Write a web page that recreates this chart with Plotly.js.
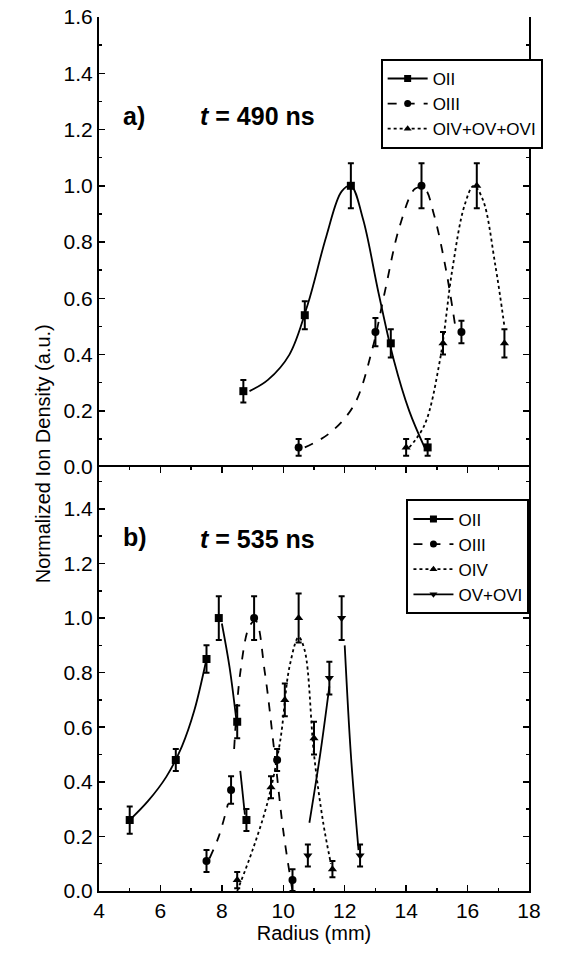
<!DOCTYPE html>
<html>
<head>
<meta charset="utf-8">
<script src="https://cdn.plot.ly/plotly-3.0.1.min.js"></script>
<style>body{margin:0;background:#fff}#chart{width:562px;height:965px}</style>
</head>
<body>
<div id="chart"></div>
<script>
// panel a) t = 490 ns — measured points
const aOIIx = [8.7, 10.7, 12.2, 13.5, 14.7];
const aOIIy = [0.27, 0.54, 1.0, 0.44, 0.07];
const aOIIe = [0.04, 0.05, 0.08, 0.05, 0.03];
const aOIIIx = [10.5, 13.0, 14.5, 15.8];
const aOIIIy = [0.07, 0.48, 1.0, 0.48];
const aOIIIe = [0.03, 0.05, 0.08, 0.04];
const aOIVx = [14.0, 15.2, 16.3, 17.2];
const aOIVy = [0.07, 0.44, 1.0, 0.44];
const aOIVe = [0.03, 0.04, 0.08, 0.05];
// panel a) fitted curves (read off the picture)
const aFitOIIx = [8.9, 9.5, 10.2, 10.8, 11.4, 11.9, 12.2, 12.6, 13.1, 13.6, 14.1, 14.6];
const aFitOIIy = [0.27, 0.31, 0.4, 0.58, 0.82, 0.98, 1.0, 0.88, 0.62, 0.38, 0.2, 0.07];
const aFitOIIIx = [10.7, 11.5, 12.3, 12.9, 13.3, 13.8, 14.3, 14.6, 14.9, 15.3, 15.6];
const aFitOIIIy = [0.07, 0.12, 0.22, 0.42, 0.62, 0.86, 0.99, 0.99, 0.9, 0.7, 0.5];
const aFitOIVx = [14.1, 14.6, 15.1, 15.5, 15.9, 16.2, 16.5, 16.9, 17.2];
const aFitOIVy = [0.07, 0.15, 0.38, 0.7, 0.93, 1.0, 0.95, 0.72, 0.5];

// panel b) t = 535 ns — measured points
const bOIIx = [5.0, 6.5, 7.5, 7.9, 8.5, 8.8];
const bOIIy = [0.26, 0.48, 0.85, 1.0, 0.62, 0.26];
const bOIIe = [0.05, 0.04, 0.05, 0.08, 0.06, 0.04];
const bOIIIx = [7.5, 8.3, 9.05, 9.8, 10.3];
const bOIIIy = [0.11, 0.37, 1.0, 0.48, 0.04];
const bOIIIe = [0.04, 0.05, 0.08, 0.04, 0.04];
const bOIVx = [8.5, 9.6, 10.05, 10.5, 11.0, 11.6];
const bOIVy = [0.04, 0.38, 0.70, 1.0, 0.56, 0.08];
const bOIVe = [0.03, 0.04, 0.06, 0.09, 0.06, 0.03];
const bOVx = [10.8, 11.5, 11.9, 12.5];
const bOVy = [0.13, 0.78, 1.0, 0.13];
const bOVe = [0.04, 0.06, 0.08, 0.04];
// panel b) fitted curve segments (null = gap)
const bFitOIIx = [5.0, 5.6, 6.2, 6.7, 7.1, 7.5, null, 8.0, 8.25, 8.5, null, 8.6, 8.75];
const bFitOIIy = [0.26, 0.33, 0.42, 0.53, 0.66, 0.85, null, 0.98, 0.82, 0.6, null, 0.44, 0.28];
const bFitOIIIx = [7.6, 7.9, 8.2, null, 8.4, 8.6, 8.9, 9.1, 9.4, 9.7, 10.0, 10.3];
const bFitOIIIy = [0.12, 0.2, 0.32, null, 0.52, 0.8, 0.97, 0.99, 0.8, 0.52, 0.22, 0.0];
const bFitOIVx = [8.5, 9.0, 9.5, 9.9, 10.2, 10.5, 10.7, 11.0, 11.3, 11.55];
const bFitOIVy = [0.0, 0.15, 0.33, 0.55, 0.82, 0.93, 0.88, 0.5, 0.25, 0.1];
const bFitOVx = [10.85, 11.2, 11.5, null, 12.0, 12.2, 12.45];
const bFitOVy = [0.25, 0.5, 0.75, null, 0.9, 0.5, 0.15];

const K = "#000";
function pts(x, y, e, sym, ya) {
  return {
    x, y, xaxis: "x", yaxis: ya, mode: "markers", showlegend: false,
    marker: { symbol: sym, size: 8, color: K },
    error_y: { type: "data", array: e, color: K, thickness: 2, width: 3 },
  };
}
function fit(x, y, dash, ya) {
  return {
    x, y, xaxis: "x", yaxis: ya, mode: "lines", showlegend: false, hoverinfo: "skip",
    line: { shape: "spline", color: K, width: 1.8, dash }, connectgaps: false,
  };
}
function legItem(name, sym, dash, leg) {
  return {
    x: [null], y: [null], xaxis: "x", yaxis: leg === "legend" ? "y" : "y2",
    mode: "lines+markers", name, legend: leg,
    marker: { symbol: sym, size: 7, color: K }, line: { color: K, width: 1.8, dash },
  };
}

const traces = [
  fit(aFitOIIx, aFitOIIy, "solid", "y"),
  fit(aFitOIIIx, aFitOIIIy, "dash", "y"),
  fit(aFitOIVx, aFitOIVy, "dot", "y"),
  pts(aOIIx, aOIIy, aOIIe, "square", "y"),
  pts(aOIIIx, aOIIIy, aOIIIe, "circle", "y"),
  pts(aOIVx, aOIVy, aOIVe, "triangle-up", "y"),
  fit(bFitOIIx, bFitOIIy, "solid", "y2"),
  fit(bFitOIIIx, bFitOIIIy, "dash", "y2"),
  fit(bFitOIVx, bFitOIVy, "dot", "y2"),
  fit(bFitOVx, bFitOVy, "solid", "y2"),
  pts(bOIIx, bOIIy, bOIIe, "square", "y2"),
  pts(bOIIIx, bOIIIy, bOIIIe, "circle", "y2"),
  pts(bOIVx, bOIVy, bOIVe, "triangle-up", "y2"),
  pts(bOVx, bOVy, bOVe, "triangle-down", "y2"),
  legItem("OII", "square", "solid", "legend"),
  legItem("OIII", "circle", "dash", "legend"),
  legItem("OIV+OV+OVI", "triangle-up", "dot", "legend"),
  legItem("OII", "square", "solid", "legend2"),
  legItem("OIII", "circle", "dash", "legend2"),
  legItem("OIV", "triangle-up", "dot", "legend2"),
  legItem("OV+OVI", "triangle-down", "solid", "legend2"),
];

const ax = {
  showline: true, linecolor: K, linewidth: 2, mirror: "ticks", ticks: "inside",
  ticklen: 6, tickwidth: 1.5, tickcolor: K, showgrid: false, zeroline: false,
  minor: { ticks: "inside", ticklen: 3, tickcolor: K },
  tickfont: { size: 21, color: K },
};
const legBase = {
  bgcolor: "#fff", bordercolor: K, borderwidth: 2, font: { size: 17, color: K },
  tracegroupgap: 0, itemwidth: 40, xanchor: "left", yanchor: "top",
};

const layout = {
  width: 562, height: 965,
  margin: { l: 99, r: 33, t: 17, b: 74 },
  paper_bgcolor: "#fff", plot_bgcolor: "#fff",
  font: { family: "Liberation Sans, Arial, sans-serif", color: K, size: 21 },
  xaxis: { ...ax, range: [4, 18], dtick: 2, anchor: "y2",
    minor: { ...ax.minor, dtick: 1 },
    title: { text: "Radius (mm)", font: { size: 20 }, standoff: 4 } },
  yaxis: { ...ax, domain: [0.485, 1], range: [0, 1.6], dtick: 0.2, tickformat: ".1f",
    minor: { ...ax.minor, dtick: 0.1 } },
  yaxis2: { ...ax, domain: [0, 0.485], range: [0, 1.553], dtick: 0.2, tickformat: ".1f",
    minor: { ...ax.minor, dtick: 0.1 } },
  legend: { ...legBase, x: 0.655, y: 0.952 },
  legend2: { ...legBase, x: 0.715, y: 0.448 },
  annotations: [
    { xref: "paper", yref: "paper", x: 0.05, y: 0.905, text: "<b>a)</b>", showarrow: false,
      xanchor: "left", font: { size: 25 } },
    { xref: "paper", yref: "paper", x: 0.23, y: 0.905, text: "<b><i>t</i> = 490 ns</b>", showarrow: false,
      xanchor: "left", font: { size: 25 } },
    { xref: "paper", yref: "paper", x: 0.05, y: 0.405, text: "<b>b)</b>", showarrow: false,
      xanchor: "left", font: { size: 25 } },
    { xref: "paper", yref: "paper", x: 0.23, y: 0.403, text: "<b><i>t</i> = 535 ns</b>", showarrow: false,
      xanchor: "left", font: { size: 25 } },
    { xref: "paper", yref: "paper", x: -0.16, y: 0.5, text: "Normalized Ion Density (a.u.)", textangle: -90,
      showarrow: false, font: { size: 20 } },
  ],
};

Plotly.newPlot("chart", traces, layout, { displayModeBar: false, staticPlot: true });
</script>
</body>
</html>
